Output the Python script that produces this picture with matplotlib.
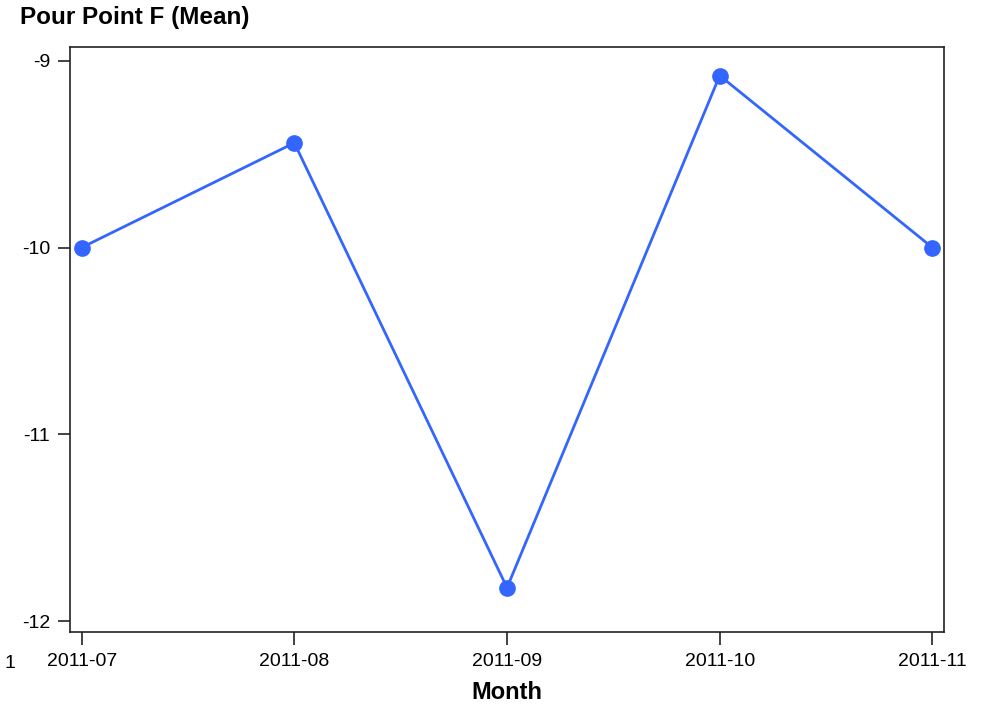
import matplotlib.pyplot as plt

# Data
months = ["2011-07", "2011-08", "2011-09", "2011-10", "2011-11"]
pour_point = [-10.0, -9.44, -11.82, -9.08, -10.0]
y_ticks = [-9, -10, -11, -12]

plt.rcParams['font.family'] = ['Liberation Sans', 'DejaVu Sans']

fig = plt.figure(figsize=(9.86, 7.07), dpi=100)
ax = fig.add_axes([0.0705, 0.1061, 0.887, 0.8274])

x = list(range(len(months)))
ax.plot(x, pour_point, color='#3366FF', linewidth=2.0,
        marker='o', markersize=11)

ax.set_xlim(-0.057, 4.055)
ax.set_ylim(-12.057, -8.927)
ax.set_xticks(x)
ax.set_xticklabels(months)
ax.set_yticks(y_ticks)
ax.set_yticklabels([str(t) for t in y_ticks])
ax.tick_params(axis='both', labelsize=14, length=9, width=1.2,
               color='#222222', pad=5)
ax.tick_params(axis='x', pad=6)
for s in ax.spines.values():
    s.set_color('#222222')
    s.set_linewidth(1.2)

ax.set_xlabel("Month", fontsize=17, fontweight='bold', labelpad=8)
fig.text(20 / 986, 1 - 6 / 707, "Pour Point F (Mean)", fontsize=17.5,
         fontweight='bold', ha='left', va='top')
fig.text(5 / 986, 1 - 663 / 707, "1", fontsize=14, ha='left', va='center')

fig.savefig('out.png', dpi=100)
